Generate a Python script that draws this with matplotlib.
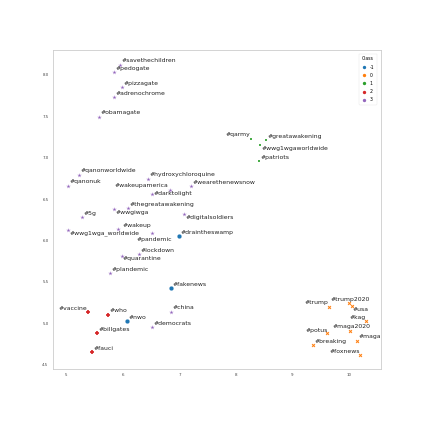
import numpy as np
import matplotlib
matplotlib.use("Agg")
import matplotlib.pyplot as plt
from matplotlib.lines import Line2D

# hashtag embedding (2D) with cluster class
labels = ["#savethechildren", "#pedogate", "#pizzagate", "#adrenochrome", "#obamagate",
          "#qarmy", "#greatawakening", "#wwg1wgaworldwide", "#patriots",
          "#qanonworldwide", "#qanonuk", "#hydroxychloroquine", "#wakeupamerica",
          "#wearethenewsnow", "#darktolight", "#thegreatawakening", "#wwgiwga", "#5g",
          "#digitalsoldiers", "#wakeup", "#wwg1wga_worldwide", "#pandemic",
          "#draintheswamp", "#lockdown", "#quarantine", "#plandemic", "#fakenews",
          "#vaccine", "#who", "#china", "#nwo", "#democrats", "#billgates", "#fauci",
          "#trump", "#trump2020", "#usa", "#kag", "#maga2020", "#potus", "#maga",
          "#breaking", "#foxnews"]
xs = [5.954, 5.843, 5.989, 5.837, 5.578,
      8.258, 8.528, 8.417, 8.405,
      5.224, 5.025, 6.443, 6.827,
      7.198, 6.514, 6.090, 5.848, 5.283,
      7.080, 5.908, 5.035, 6.514,
      6.991, 6.284, 5.979, 5.772, 6.850,
      5.389, 5.737, 6.855, 6.078, 6.519, 5.548, 5.454,
      9.641, 10.000, 10.053, 10.295, 10.012, 9.618, 10.148,
      9.364, 10.194]
ys = [8.124, 8.033, 7.851, 7.726, 7.496,
      7.231, 7.211, 7.151, 6.961,
      6.796, 6.663, 6.748, 6.611,
      6.659, 6.563, 6.390, 6.378, 6.281,
      6.321, 6.136, 6.128, 6.092,
      6.056, 5.835, 5.818, 5.605, 5.424,
      5.134, 5.105, 5.141, 5.029, 4.953, 4.884, 4.651,
      5.202, 5.243, 5.214, 5.025, 4.908, 4.880, 4.791,
      4.739, 4.615]
classes = [3, 3, 3, 3, 3,
           1, 1, 1, 1,
           3, 3, 3, 3,
           3, 3, 3, 3, 3,
           3, 3, 3, 3,
           -1, 3, 3, 3, -1,
           2, 2, 3, -1, 3, 2, 2,
           0, 0, 0, 0, 0, 0, 0,
           0, 0]
class_levels = [-1, 0, 1, 2, 3]

colors = {-1: "#1f77b4", 0: "#ff7f0e", 1: "#2ca02c", 2: "#d62728", 3: "#9467bd"}
markers = {-1: "o", 0: "X", 1: "s", 2: "P", 3: "*"}
sizes = {-1: 10, 0: 7, 1: 4, 2: 8, 3: 11}

# label placement tweaks (offset in points, alignment)
default_off = (1.1, 2.7, "left")
label_off = {
    "#wakeupamerica": (-1.2, 2.9, "right"),
    "#darktolight": (1.2, 0.0, "left"),
    "#wwgiwga": (1.2, -2.4, "left"),
    "#digitalsoldiers": (1.4, -2.7, "left"),
    "#wwg1wga_worldwide": (1.0, -2.0, "left"),
    "#pandemic": (-11.0, -4.5, "left"),
    "#wakeup": (3.6, 2.6, "left"),
    "#quarantine": (1.0, -2.4, "left"),
    "#wwg1wgaworldwide": (1.7, -2.4, "left"),
    "#vaccine": (-0.4, 2.9, "right"),
    "#qarmy": (-0.5, 2.7, "right"),
    "#trump": (-0.2, 2.7, "right"),
    "#trump2020": (-13.0, 2.4, "left"),
    "#usa": (0.7, -2.6, "left"),
    "#kag": (-0.4, 2.6, "right"),
    "#maga2020": (-12.7, 3.1, "left"),
    "#potus": (0.0, 2.4, "right"),
    "#foxnews": (0.0, 3.1, "right"),
}

fig = plt.figure(figsize=(4.23, 4.23), dpi=100)
ax = fig.add_axes([0.1246, 0.1277, 0.7754, 0.7543])

xs = np.array(xs)
ys = np.array(ys)
classes = np.array(classes)
for c in class_levels:
    m = classes == c
    ax.scatter(xs[m], ys[m], s=sizes[c], c=colors[c], marker=markers[c],
               edgecolors="white", linewidths=0.1, zorder=3)

for lab, x, y in zip(labels, xs, ys):
    dx, dy, ha = label_off.get(lab, default_off)
    ax.annotate(lab, (x, y), xytext=(dx, dy), textcoords="offset points",
                ha=ha, va="center", fontsize=4.4, color="#222222")

ax.set_xlim(4.76, 10.56)
ax.set_ylim(4.45, 8.30)
ax.set_xticks([5, 6, 7, 8, 9, 10])
ax.set_yticks([4.5, 5.0, 5.5, 6.0, 6.5, 7.0, 7.5, 8.0])
ax.tick_params(labelsize=2.9, length=0, pad=3, colors="#444444")
for sp in ax.spines.values():
    sp.set_color("#cccccc")
    sp.set_linewidth(0.6)

handles = [Line2D([], [], marker="o", ls="", color=colors[c], markersize=1.4,
                  label=str(c)) for c in class_levels]
leg = ax.legend(handles=handles, title="Class", loc="upper right",
                fontsize=3.3, title_fontsize=3.3, frameon=True,
                borderpad=0.6, labelspacing=0.7, handletextpad=0.8,
                handlelength=1.0, borderaxespad=0.8)
leg.get_frame().set_linewidth(0.3)
leg.get_frame().set_edgecolor("#dddddd")

fig.savefig("out.png", dpi=100)
